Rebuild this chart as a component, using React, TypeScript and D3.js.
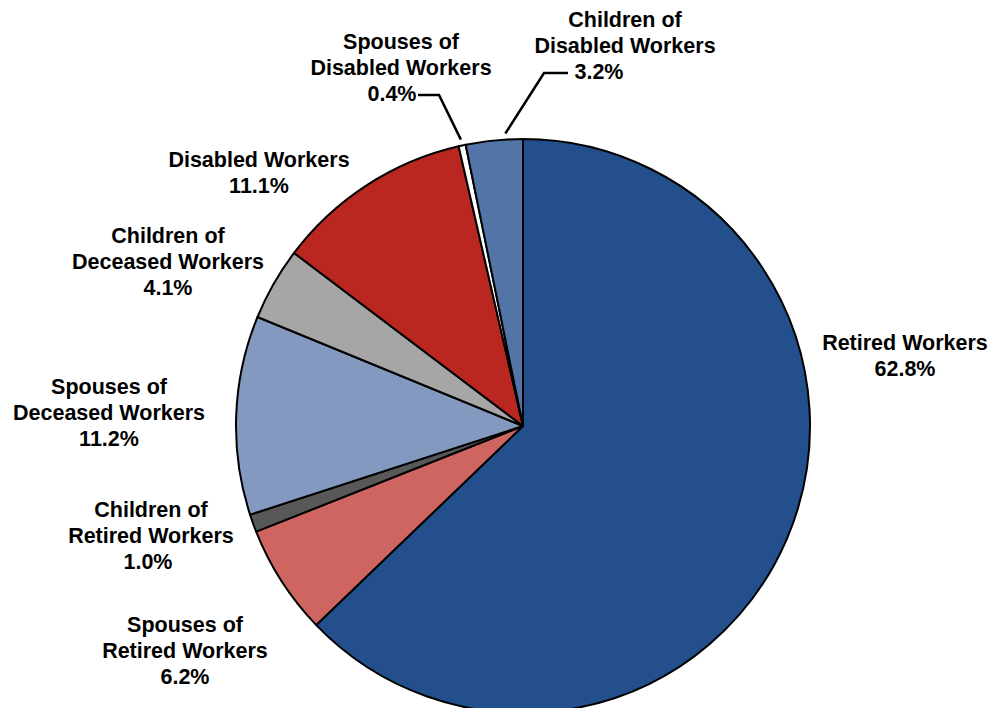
import React from "react";
import * as d3 from "d3";

const categories = [
  "Retired Workers",
  "Spouses of Retired Workers",
  "Children of Retired Workers",
  "Spouses of Deceased Workers",
  "Children of Deceased Workers",
  "Disabled Workers",
  "Spouses of Disabled Workers",
  "Children of Disabled Workers",
];
const values = [62.8, 6.2, 1.0, 11.2, 4.1, 11.1, 0.4, 3.2];
const colors = ["#234f8c", "#cf6560", "#585858", "#8499c0", "#a6a6a6", "#b92720", "#ffffff", "#5274a6"];
const labelLines = [
  ["Retired Workers"],
  ["Spouses of", "Retired Workers"],
  ["Children of", "Retired Workers"],
  ["Spouses of", "Deceased Workers"],
  ["Children of", "Deceased Workers"],
  ["Disabled Workers"],
  ["Spouses of", "Disabled Workers"],
  ["Children of", "Disabled Workers"],
];

// layout: label anchor (x center, first baseline), pct line x shift, leader elbow, leader position within slice
const layout: { x: number; y: number; pdx: number; leader?: number[][]; at?: number }[] = [
  { x: 905, y: 350, pdx: 0 },
  { x: 185, y: 632, pdx: 0 },
  { x: 151, y: 517, pdx: -3 },
  { x: 109, y: 394, pdx: 0 },
  { x: 168, y: 243, pdx: 0 },
  { x: 259, y: 167, pdx: 0 },
  { x: 401, y: 49, pdx: -9, leader: [[418, 95], [439, 95]], at: 0.5 },
  { x: 625, y: 27, pdx: -26, leader: [[568, 73], [544, 73]], at: 0.7 },
];

const W = 990;
const H = 708;
const cx = 523;
const cy = 426;
const R = 287;
const LH = 26;

export default function App() {
  const pie = d3.pie<number>().sort(null).value((d) => d)(values);
  const arc = d3.arc<d3.PieArcDatum<number>>().innerRadius(0).outerRadius(R);
  return (
    <div style={{ position: "absolute", left: 0, top: 0 }}>
      <svg width={W} height={H} style={{ display: "block" }}>
        <rect width={W} height={H} fill="#ffffff" />
        <g transform={`translate(${cx},${cy})`}>
          {pie.map((p, i) => (
            <path key={i} d={arc(p) || ""} fill={colors[i]} stroke="#000" strokeWidth={2} strokeLinejoin="round" />
          ))}
        </g>
        {pie.map((p, i) => {
          const L = layout[i];
          if (!L.leader) return null;
          const a = p.startAngle + (p.endAngle - p.startAngle) * (L.at ?? 0.5);
          const rr = R + 6;
          const pts = [...L.leader, [cx + rr * Math.sin(a), cy - rr * Math.cos(a)]];
          return (
            <polyline
              key={"l" + i}
              points={pts.map((q) => q.join(",")).join(" ")}
              fill="none"
              stroke="#000"
              strokeWidth={2.5}
            />
          );
        })}
        <g fontFamily="'Liberation Sans', Arial, sans-serif" fontWeight="bold" fontSize={21.5} textAnchor="middle" fill="#000">
          {labelLines.map((lines, i) => {
            const L = layout[i];
            return (
              <text key={"t" + i}>
                {lines.map((s, j) => (
                  <tspan key={j} x={L.x} y={L.y + j * LH}>
                    {s}
                  </tspan>
                ))}
                <tspan x={L.x + L.pdx} y={L.y + lines.length * LH}>
                  {values[i].toFixed(1) + "%"}
                </tspan>
              </text>
            );
          })}
        </g>
      </svg>
    </div>
  );
}
